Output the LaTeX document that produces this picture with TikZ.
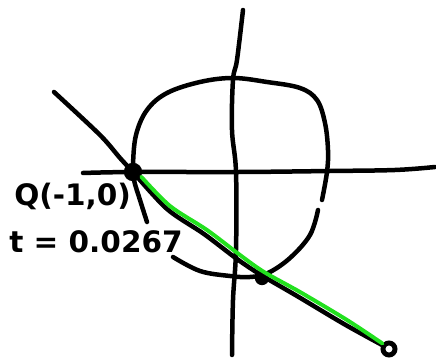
\documentclass[tikz,border=0pt]{standalone}
\usepackage{fontspec}
\setmainfont{DejaVu Sans}
\usetikzlibrary{positioning,calc}
\definecolor{cInk}{HTML}{000000}
\definecolor{cLine}{HTML}{22E01E}
\tikzset{
  ink/.style={draw=cInk,line width=3.2pt,line cap=round,line join=round},
  hand/.style={line width=2.8pt,draw=cLine,line cap=round,line join=round},
  dot/.style={circle,fill=cInk,inner sep=0pt,minimum size=#1},
  ring/.style={circle,draw=cInk,fill=white,line width=3.5pt,inner sep=0pt,minimum size=0.3cm},
  lbl/.style={font=\fontsize{21}{24}\selectfont\bfseries,inner sep=0pt},
}
\begin{document}
\begin{tikzpicture}[x=0.025cm,y=-0.025cm]
  \useasboundingbox (0,0) rectangle (436,359);

  \coordinate (ytop) at (243,10);
  \coordinate (ybot) at (232,355);
  \coordinate (xl) at (83,173);
  \coordinate (xr) at (435,167);
  \coordinate (tail) at (54,92);

  \draw[ink] plot[smooth,tension=0.6] coordinates {(147,222) (140,200) (134,180) (133,165) (136,135) (147,110) (167,93) (200,82) (233,78) (267,82) (300,88) (317,100) (325,123) (328,150) (327,172) (322,200)};
  \draw[ink] plot[smooth,tension=0.6] coordinates {(318,210) (310,235) (290,258) (268,273) (250,277) (230,276) (200,271) (173,257)};
  \draw[ink] plot[smooth,tension=0.6] coordinates {(ytop) (237,60) (233,80) (232,130) (236,172) (236,250) (233,300) (ybot)};
  \draw[ink] plot[smooth,tension=0.6] coordinates {(xl) (133,172) (240,172) (330,171) (395,170) (xr)};

  \node[dot=0.46cm] (Q) at (133,172) {};
  \node[dot=0.36cm] (P) at (262,278) {};
  \node[ring] (R) at (389,349) {};

  \node[lbl,anchor=west] (qlbl) at (14,196) {Q(-1,0)};
  \node[lbl,anchor=west] (tlbl) at (9,242) {t = 0.0267};

  \draw[ink] plot[smooth,tension=0.5] coordinates {(tail) (100,135) (120,158) (Q)};
  \draw[ink] plot[smooth,tension=0.5] coordinates {(Q) (167,209) (204,234) (237,259) ($(P)+(-1,-3)$) (297,296) (344,324) (R.150)};
  \draw[hand] plot[smooth,tension=0.5] coordinates {(Q.-30) (170,206) (207,230) (240,255) ($(P)+(2,-6)$) (300,292) (347,320) (R.140)};
\end{tikzpicture}
\end{document}
